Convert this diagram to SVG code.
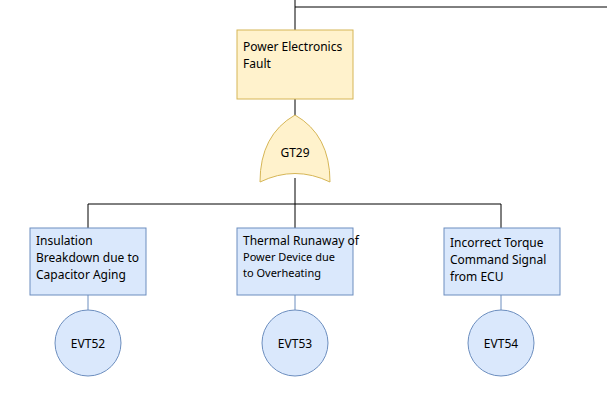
<svg xmlns="http://www.w3.org/2000/svg" width="607" height="408" viewBox="0 0 607 408">
<style>
.l{stroke:#000;fill:none;stroke-width:1}
.y{fill:#fff2cc;stroke:#d6b656}
.b{fill:#dae8fc;stroke:#6c8ebf}
.c{stroke:#6c8ebf;fill:none}
text{font-family:"Noto Sans","Liberation Sans",sans-serif;font-size:12px;fill:#000}
</style>
<g id="connectors">
<path class="l" d="M295 0V7H607M295 7V30"/>
<path class="l" d="M295 99V118M295 178V204M88 204H501M88 204V228M295 204V228M501 204V228"/>
<path class="c" d="M88 295V310M295 295V310M501 295V310"/>
</g>
<g id="top"><rect class="y" x="237" y="30" width="116" height="69"/><text x="243" y="51">Power Electronics</text><text x="243" y="68">Fault</text></g>
<g id="GT29"><path class="y" d="M260 182Q295 165 330 182Q330 135 295 115Q260 135 260 182Z"/><text x="295" y="157" text-anchor="middle">GT29</text></g>
<g id="n1"><rect class="b" x="30" y="228" width="116" height="67"/><text x="36" y="245">Insulation</text><text x="36" y="262">Breakdown due to</text><text x="36" y="279">Capacitor Aging</text></g>
<g id="n2"><rect class="b" x="237" y="228" width="116" height="67"/><text x="243" y="245" font-size="11">Thermal Runaway of</text><text x="243" y="261" style="font-size:11px">Power Device due</text><text x="243" y="277" style="font-size:11px">to Overheating</text></g>
<g id="n3"><rect class="b" x="444" y="228" width="116" height="67"/><text x="450" y="247">Incorrect Torque</text><text x="450" y="264">Command Signal</text><text x="450" y="281">from ECU</text></g>
<g id="EVT52"><circle class="b" cx="88" cy="343" r="33"/><text x="88" y="348" text-anchor="middle">EVT52</text></g>
<g id="EVT53"><circle class="b" cx="295" cy="343" r="33"/><text x="295" y="348" text-anchor="middle">EVT53</text></g>
<g id="EVT54"><circle class="b" cx="501" cy="343" r="33"/><text x="501" y="348" text-anchor="middle">EVT54</text></g>
</svg>
